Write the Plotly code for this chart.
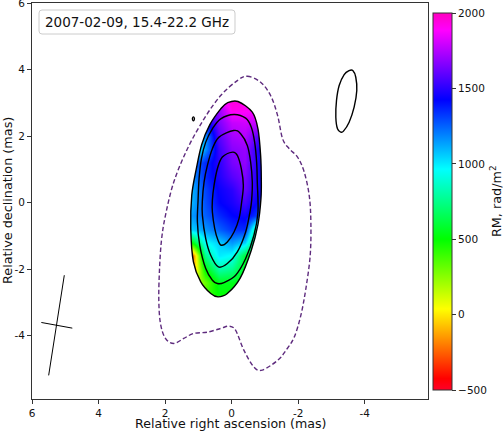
import plotly.graph_objects as go

# RM map grid (rad/m^2)
rm_x = [-1.2, -0.8, -0.4, 0.0, 0.4, 0.8, 1.2, 1.6]
rm_y = [-3.2, -2.8, -2.4, -2.0, -1.6, -1.2, -0.8, -0.4, 0.0,
        0.4, 0.8, 1.2, 1.6, 2.0, 2.4, 2.8, 3.2]
rm_z = [
    [500, 500, 500, 500, 500, 400, 300, 300],
    [500, 500, 500, 500, 500, 400, 300, 300],
    [500, 500, 500, 550, 550, 300, 100, 100],
    [500, 500, 550, 750, 800, 500, -200, -200],
    [500, 500, 600, 950, 1000, 750, -300, -300],
    [500, 500, 1050, 1150, 1050, 950, 500, 400],
    [600, 600, 1350, 1330, 1250, 1150, 1050, 1050],
    [1300, 1300, 1450, 1420, 1350, 1250, 1150, 1150],
    [1400, 1400, 1550, 1470, 1420, 1280, 1100, 1100],
    [1450, 1450, 1620, 1500, 1440, 1300, 1100, 1100],
    [1450, 1450, 1650, 1580, 1480, 1350, 1150, 1150],
    [1450, 1450, 1690, 1640, 1500, 1350, 1200, 1200],
    [1450, 1460, 1700, 1670, 1530, 1150, 750, 750],
    [1550, 1560, 1750, 1720, 1580, 1150, 900, 900],
    [1780, 1780, 1800, 1780, 1650, 1350, 1200, 1200],
    [1850, 1870, 1900, 1920, 1700, 1500, 1500, 1500],
    [1900, 1900, 1950, 1950, 1950, 1900, 1850, 1850],
]
rm_ticks = [-500, 0, 500, 1000, 1500, 2000]

# total intensity contours (mas)
outer_x = [-0.19, -0.62, -0.79, -0.87, -0.89, -0.88, -0.79, -0.59, -0.26, 0.13,
           0.41, 0.63, 0.93, 1.15, 1.23, 1.20, 1.065, 0.90, 0.66, 0.33, 0.13]
outer_y = [3.04, 2.72, 2.22, 1.42, 0.72, 0.12, -0.65, -1.43, -2.26, -2.73,
           -2.83, -2.73, -2.38, -1.78, -0.78, 0.22, 1.005, 1.75, 2.34, 2.82, 3.0]
c2_x = [-0.07, -0.42, -0.59, -0.69, -0.75, -0.77, -0.79, -0.67, -0.42, -0.12, 0.23,
        0.43, 0.58, 0.78, 0.96, 1.03, 1.01, 0.98, 0.91, 0.78, 0.58, 0.33]
c2_y = [2.65, 2.54, 2.27, 1.82, 1.22, 0.62, -0.28, -0.98, -1.68, -2.18, -2.40,
        -2.43, -2.33, -1.98, -1.28, -0.58, 0.07, 0.72, 1.32, 1.82, 2.22, 2.52]
c3_x = [-0.06, -0.27, -0.47, -0.57, -0.62, -0.60, -0.55, -0.42, -0.17, 0.13,
        0.40, 0.63, 0.78, 0.88, 0.88, 0.83, 0.73, 0.58, 0.38]
c3_y = [2.17, 2.07, 1.72, 1.22, 0.62, 0.07, -0.28, -0.88, -1.48, -1.83,
        -1.93, -1.58, -1.08, -0.38, 0.07, 0.62, 1.12, 1.62, 1.97]
c4_x = [-0.03, -0.17, -0.29, -0.35, -0.30, -0.22, -0.07, 0.13, 0.31, 0.41,
        0.51, 0.58, 0.58, 0.53, 0.43, 0.28]
c4_y = [1.52, 1.42, 1.02, 0.52, 0.02, -0.48, -0.88, -1.18, -1.28, -1.13,
        -0.78, -0.28, 0.07, 0.52, 1.02, 1.37]
blob_x = [1.15, 1.12, 1.15, 1.18]
blob_y = [2.58, 2.52, 2.46, 2.52]

# lowest (dashed) contour
low_x = [-0.47, -0.87, -1.17, -1.38, -1.53, -1.73, -1.98, -2.18, -2.33, -2.38,
         -2.36, -2.23, -2.08, -1.88, -1.63, -1.38, -0.92, -0.67, -0.37, -0.12,
         0.08, 0.33, 0.73, 1.14, 1.44, 1.74, 1.99, 2.14, 2.19, 2.17, 2.11, 1.99,
         1.74, 1.33, 0.83, 0.33, -0.17]
low_y = [3.80, 3.62, 3.22, 2.62, 1.92, 1.62, 1.37, 0.92, 0.22, -0.58,
         -1.58, -2.58, -3.38, -4.04, -4.44, -4.74, -5.03, -4.94, -4.44, -3.84,
         -3.71, -3.78, -3.89, -3.93, -4.08, -4.23, -4.08, -3.63, -2.93, -2.03,
         -1.13, -0.38, 0.62, 1.62, 2.52, 3.22, 3.67]

# beam and polarization cross
beam_x = [-3.64, -3.73, -3.76, -3.68, -3.53, -3.36, -3.28, -3.18, -3.13, -3.15,
          -3.23, -3.38, -3.53]
beam_y = [3.97, 3.77, 3.37, 2.87, 2.42, 2.15, 2.12, 2.22, 2.57, 3.07,
          3.52, 3.85, 3.97]
cross_x = [[5.03, 5.50], [5.72, 4.79]]
cross_y = [[-2.18, -5.19], [-3.60, -3.77]]

GIST_RAINBOW = [
    [0.0, 'rgb(255,0,41)'], [0.03, 'rgb(255,0,0)'], [0.215, 'rgb(255,255,0)'],
    [0.4, 'rgb(0,255,0)'], [0.586, 'rgb(0,255,255)'], [0.77, 'rgb(0,0,255)'],
    [0.954, 'rgb(255,0,255)'], [1.0, 'rgb(255,0,191)'],
]


def smooth_path(xs, ys):
    # closed Catmull-Rom curve through the points, as svg cubic beziers
    n = len(xs)
    d = f"M{xs[0]},{ys[0]}"
    for i in range(n):
        x0, y0 = xs[i - 1], ys[i - 1]
        x1, y1 = xs[i], ys[i]
        x2, y2 = xs[(i + 1) % n], ys[(i + 1) % n]
        x3, y3 = xs[(i + 2) % n], ys[(i + 2) % n]
        d += (f" C{x1 + (x2 - x0) / 6:.4f},{y1 + (y2 - y0) / 6:.4f}"
              f" {x2 - (x3 - x1) / 6:.4f},{y2 - (y3 - y1) / 6:.4f} {x2},{y2}")
    return d + " Z"


fig = go.Figure()
fig.add_trace(go.Heatmap(
    x=rm_x, y=rm_y, z=rm_z, zmin=-500, zmax=2000, zsmooth='best',
    colorscale=GIST_RAINBOW, hoverinfo='skip',
    colorbar=dict(x=1.0126, xanchor='left', xpad=0, y=0.9747, yanchor='top', ypad=0,
                  len=377, lenmode='pixels', thickness=19, outlinewidth=1,
                  outlinecolor='#333', tickvals=rm_ticks, ticks='outside', ticklen=4,
                  tickcolor='#333', tickfont=dict(size=10.5, color='#111')),
))

shapes = []
# white mask around the outer contour so the RM map is clipped to it
mask = "M2.0,-3.6 L-1.6,-3.6 L-1.6,3.6 L2.0,3.6 Z " + smooth_path(outer_x, outer_y)
shapes.append(dict(type='path', xref='x', yref='y', path=mask, fillcolor='white',
                   fillrule='evenodd', line=dict(width=0), layer='above'))
shapes.append(dict(type='path', xref='x', yref='y', path=smooth_path(low_x, low_y),
                   line=dict(color='#5e2b7e', width=1.4, dash='4.5px,2.5px')))
for cx, cy in [(outer_x, outer_y), (c2_x, c2_y), (c3_x, c3_y), (c4_x, c4_y),
               (blob_x, blob_y), (beam_x, beam_y)]:
    shapes.append(dict(type='path', xref='x', yref='y', path=smooth_path(cx, cy),
                       line=dict(color='black', width=1.4)))
for sx, sy in zip(cross_x, cross_y):
    shapes.append(dict(type='line', xref='x', yref='y', x0=sx[0], y0=sy[0],
                       x1=sx[1], y1=sy[1], line=dict(color='black', width=1)))

# rounded legend box
bx0, bx1, by0, by1, r = 0.0177, 0.5126, 0.9217, 0.9823, 0.0076
box = (f"M{bx0 + r},{by0} L{bx1 - r},{by0} Q{bx1},{by0} {bx1},{by0 + r} "
       f"L{bx1},{by1 - r} Q{bx1},{by1} {bx1 - r},{by1} L{bx0 + r},{by1} "
       f"Q{bx0},{by1} {bx0},{by1 - r} L{bx0},{by0 + r} Q{bx0},{by0} {bx0 + r},{by0} Z")
shapes.append(dict(type='path', xref='paper', yref='paper', path=box,
                   fillcolor='white', line=dict(color='#cccccc', width=1)))

axis_style = dict(showgrid=False, zeroline=False, showline=True, mirror=True,
                  linecolor='#333', linewidth=1, ticks='outside', ticklen=4,
                  tickcolor='#333', tickfont=dict(size=10.5, color='#111'),
                  ticklabeloverflow='allow', automargin=False)

fig.update_layout(
    width=503, height=431,
    margin=dict(l=32, r=75, t=3, b=32),
    paper_bgcolor='white', plot_bgcolor='white',
    font=dict(family='DejaVu Sans', color='#111'),
    xaxis=dict(range=[6.001, -5.9], tickvals=[6, 4, 2, 0, -2, -4],
               ticktext=['6', '4', '2', '0', '-2', '-4'], **axis_style),
    yaxis=dict(range=[-5.9, 6.001], tickvals=[-4, -2, 0, 2, 4, 6],
               ticktext=['-4', '-2', '0', '2', '4', '6'], **axis_style),
    shapes=shapes,
    annotations=[
        dict(text='2007-02-09, 15.4-22.2 GHz', x=0.2652, y=0.952, xref='paper',
             yref='paper', showarrow=False, xanchor='center', yanchor='middle',
             font=dict(size=13.5, color='#111')),
        dict(text='Relative right ascension (mas)', x=0.5008, y=-0.0631,
             xref='paper', yref='paper', showarrow=False, xanchor='center',
             yanchor='middle', font=dict(size=12.6)),
        dict(text='Relative declination (mas)', x=-0.0631, y=0.5, xref='paper',
             yref='paper', showarrow=False, textangle=-90, xanchor='center',
             yanchor='middle', font=dict(size=12.8)),
        dict(text='RM, rad/m<sup>2</sup>', x=1.172, y=0.5, xref='paper',
             yref='paper', showarrow=False, textangle=-90, xanchor='center',
             yanchor='middle', font=dict(size=12.8)),
    ],
)

# the page's default 8px body margin would push the figure off the window
fig.write_html("out.html", config={'displayModeBar': False},
               post_script="document.body.style.margin='0';")
